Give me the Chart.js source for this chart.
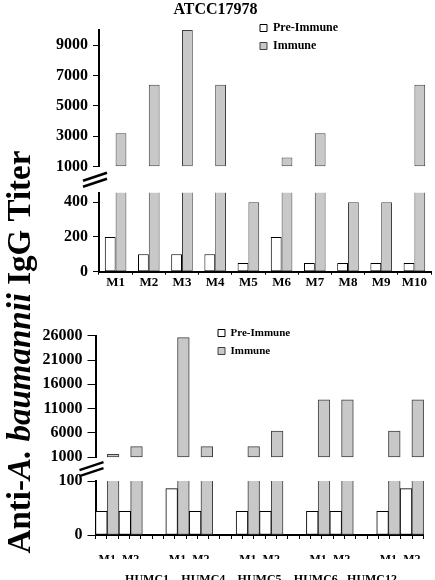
<!DOCTYPE html>
<html>
<head>
<meta charset="utf-8">
<script src="https://cdn.jsdelivr.net/npm/chart.js@4.4.0/dist/chart.umd.min.js"></script>
<style>
  html, body { margin: 0; padding: 0; background: #fff; overflow: hidden; }
  #page { position: relative; width: 435px; height: 580px; overflow: hidden; background: #fff; }
  #topChart { position: absolute; left: 0; top: 0; }
  #bottomChart { position: absolute; left: 0; top: 140px; }
</style>
</head>
<body>
<div id="page">
  <canvas id="topChart" width="476" height="300" style="width:476px;height:300px"></canvas>
  <canvas id="bottomChart" width="435" height="440" style="width:435px;height:440px"></canvas>
</div>
<script>
// ATCC17978 panel
const mice1 = ['M1', 'M2', 'M3', 'M4', 'M5', 'M6', 'M7', 'M8', 'M9', 'M10'];
const preImmune1 = [200, 100, 100, 100, 50, 200, 50, 50, 50, 50];
const immune1 = [3200, 6400, 10000, 6400, 400, 1600, 3200, 400, 400, 6400];
const upperTicks1 = [1000, 3000, 5000, 7000, 9000];
const lowerTicks1 = [0, 200, 400];

// clinical isolates panel (two mice per isolate: M1, M2)
const isolates2 = ['HUMC1', 'HUMC4', 'HUMC5', 'HUMC6', 'HUMC12'];
const mice2 = ['M1', 'M2'];
const preImmune2 = [44, 44, 86, 44, 44, 44, 44, 44, 44, 86];
const immune2 = [1600, 3200, 25600, 3200, 3200, 6400, 12800, 12800, 6400, 12800];
const upperTicks2 = [1000, 6000, 11000, 16000, 21000, 26000];
const lowerTicks2 = [0, 100];

const yTitleParts = ['Anti-', 'A. baumannii', ' IgG Titer'];
const yTitleItalic = [false, true, false];

const SERIF = "'Liberation Serif', 'Times New Roman', serif";
const PRE_FILL = '#ffffff', PRE_LINE = '#000000';
const IMM_FILL = '#c8c8c8', IMM_LINE = '#404040';

function bold(size) {
    return { family: SERIF, size: size, weight: 'bold' };
}

// slots for panel 2: M1, M2, blank, M1, M2, blank ...
const slotLabels2 = [], slotPre2 = [], slotImm2 = [];
isolates2.forEach((iso, g) => {
    if (g > 0) {
        slotLabels2.push('');
        slotPre2.push(null);
        slotImm2.push(null);
    }
    mice2.forEach((m, k) => {
        slotLabels2.push(m);
        slotPre2.push(preImmune2[g * 2 + k]);
        slotImm2.push(immune2[g * 2 + k]);
    });
});
const groupCenters2 = isolates2.map((iso, g) => g * 3 + 0.5);

function barSets(pre, imm, cut, catPct) {
    const common = {
        xAxisID: 'x',
        borderWidth: 1, borderSkipped: false, barPercentage: 1, categoryPercentage: catPct,
        clip: { left: false, right: false, top: 0, bottom: false }
    };
    const above = arr => arr.map(v => (v !== null && v > cut) ? v : null);
    return [
        Object.assign({ label: 'Pre-Immune', data: above(pre), yAxisID: 'yU', stack: 'pre', base: cut, backgroundColor: PRE_FILL, borderColor: PRE_LINE }, common),
        Object.assign({ label: 'Immune', data: above(imm), yAxisID: 'yU', stack: 'imm', base: cut, backgroundColor: IMM_FILL, borderColor: IMM_LINE }, common),
        Object.assign({ label: 'Pre-Immune', data: pre, yAxisID: 'yL', stack: 'pre', backgroundColor: PRE_FILL, borderColor: PRE_LINE }, common),
        Object.assign({ label: 'Immune', data: imm, yAxisID: 'yL', stack: 'imm', backgroundColor: IMM_FILL, borderColor: IMM_LINE }, common)
    ];
}

function valueAxis(min, max, tickList, weight, width, tickLen, pad) {
    return {
        type: 'linear', position: 'left', stack: 'split', stackWeight: weight, stacked: false,
        min: min, max: max,
        afterBuildTicks: s => { s.ticks = tickList.map(v => ({ value: v })); },
        afterFit: s => { s.width = width; },
        grid: { drawOnChartArea: false, tickLength: tickLen, tickColor: '#000', lineWidth: 1 },
        border: { color: '#000', width: 2 },
        ticks: { color: '#000', font: bold(16), padding: pad, autoSkip: false, callback: v => String(v) }
    };
}

function gapAxis(weight) {
    return { type: 'linear', position: 'left', stack: 'split', stackWeight: weight, display: false };
}

// the "//" mark between the upper and lower part of the value axis
const breakMarks = {
    id: 'breakMarks',
    afterDraw(chart) {
        const up = chart.scales.yU, lo = chart.scales.yL, ctx = chart.ctx;
        const cx = chart.chartArea.left - 4, cy = (up.bottom + lo.top) / 2;
        ctx.save();
        ctx.strokeStyle = '#000';
        ctx.lineWidth = 2.5;
        [-3, 3].forEach(dy => {
            ctx.beginPath();
            ctx.moveTo(cx - 12, cy + dy + 4);
            ctx.lineTo(cx + 12, cy + dy - 4);
            ctx.stroke();
        });
        ctx.restore();
    }
};

function legendAt(x, y) {
    return {
        id: 'legendAt',
        afterLayout(chart) {
            const lg = chart.legend;
            lg.left = x; lg.top = y; lg.right = x + 160; lg.bottom = y + 60;
        }
    };
}

function legendOpts(size, pad) {
    return {
        position: 'chartArea', align: 'start',
        labels: {
            boxWidth: 7, boxHeight: 7, padding: pad, color: '#000', font: bold(size),
            filter: item => item.datasetIndex < 2
        }
    };
}

const yTitle = {
    id: 'yTitle',
    afterDraw(chart) {
        const ctx = chart.ctx, size = 33;
        const fonts = yTitleItalic.map(it => (it ? 'italic ' : '') + 'bold ' + size + 'px ' + SERIF);
        ctx.save();
        let total = 0;
        const widths = yTitleParts.map((t, i) => { ctx.font = fonts[i]; const w = ctx.measureText(t).width; total += w; return w; });
        ctx.translate(21, 212);
        ctx.rotate(-Math.PI / 2);
        ctx.fillStyle = '#000';
        ctx.textBaseline = 'middle';
        ctx.textAlign = 'left';
        let x = -total / 2;
        yTitleParts.forEach((t, i) => { ctx.font = fonts[i]; ctx.fillText(t, x, 0); x += widths[i]; });
        ctx.restore();
    }
};

// ---- top panel ----
// value axes in a stack are placed bottom-up in definition order: lower part first
new Chart(document.getElementById('topChart'), {
    type: 'bar',
    data: { labels: mice1, datasets: barSets(preImmune1, immune1, 1000, 0.65) },
    options: {
        responsive: false, animation: false, devicePixelRatio: 1, events: [],
        layout: { padding: { left: 0, right: 45, top: 0, bottom: 8.3 } },
        plugins: {
            tooltip: { enabled: false },
            title: { display: true, text: 'ATCC17978', color: '#000', font: bold(16), padding: { top: 0.5, bottom: 10.3 } },
            legend: legendOpts(12, 6)
        },
        scales: {
            x: {
                type: 'category', offset: true,
                grid: { offset: true, drawOnChartArea: false, tickLength: 3, tickColor: '#000' },
                border: { color: '#000', width: 2 },
                ticks: { color: '#000', font: bold(13), padding: 0, maxRotation: 0, autoSkip: false },
                afterFit: s => { s.height = 20; }
            },
            yL: valueAxis(0, 455, lowerTicks1, 79, 99, 6, 5),
            yGap: gapAxis(26),
            yU: valueAxis(1000, 10000, upperTicks1, 136.7, 99, 6, 5)
        }
    },
    plugins: [breakMarks, legendAt(254, 16)]
});

// ---- bottom panel ----
new Chart(document.getElementById('bottomChart'), {
    type: 'bar',
    data: { labels: slotLabels2, datasets: barSets(slotPre2, slotImm2, 1000, 1) },
    options: {
        responsive: false, animation: false, devicePixelRatio: 1, events: [],
        layout: { padding: { left: 0, right: 11.4, top: 195.7, bottom: 0 } },
        plugins: {
            tooltip: { enabled: false },
            legend: legendOpts(11, 7)
        },
        scales: {
            x: {
                type: 'category', position: 'bottom', offset: true,
                grid: { display: false },
                border: { display: false },
                ticks: { color: '#000', font: bold(12), padding: 6, maxRotation: 0, autoSkip: false },
                afterFit: s => { s.height = 20; }
            },
            xt: {
                type: 'linear', axis: 'x', position: 'bottom', min: -0.5, max: slotLabels2.length - 0.5,
                weight: -1,
                afterBuildTicks: s => {
                    const t = [];
                    for (let v = -0.5; v <= slotLabels2.length - 0.5; v += 0.5) t.push({ value: v });
                    s.ticks = t;
                },
                grid: { drawOnChartArea: false, tickLength: 4, tickColor: '#000' },
                border: { color: '#000', width: 2 },
                ticks: { display: false },
                afterFit: s => { s.height = 4; }
            },
            xg: {
                type: 'linear', axis: 'x', position: 'bottom', min: -0.5, max: slotLabels2.length - 0.5,
                weight: 1,
                afterBuildTicks: s => { s.ticks = groupCenters2.map(v => ({ value: v })); },
                grid: { display: false },
                border: { display: false },
                ticks: { color: '#000', font: bold(12), padding: 6, maxRotation: 0, autoSkip: false,
                    callback: (v, i) => isolates2[i] },
                afterFit: s => { s.height = 21; }
            },
            yL: valueAxis(0, 100, lowerTicks2, 54, 95.5, 8, 5),
            yGap: gapAxis(23.7),
            yU: valueAxis(1000, 26000, upperTicks2, 121.6, 95.5, 8, 5)
        }
    },
    plugins: [breakMarks, legendAt(211, 180.5), yTitle]
});
</script>
</body>
</html>
